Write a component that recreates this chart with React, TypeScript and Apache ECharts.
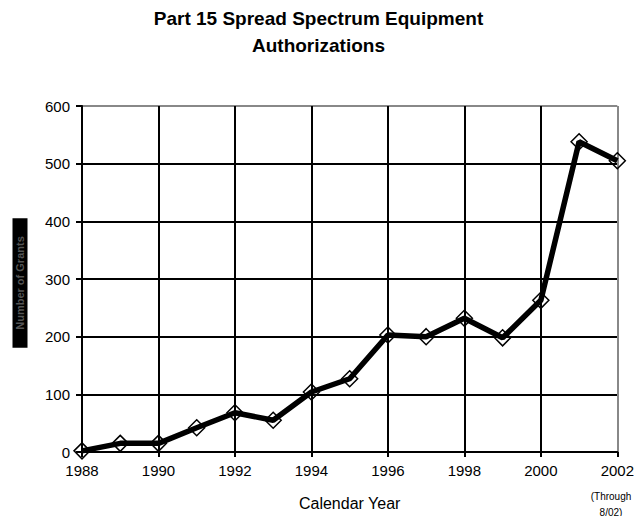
import React, { useEffect, useRef } from "react";
import * as echarts from "echarts";

const years = [1988, 1989, 1990, 1991, 1992, 1993, 1994, 1995, 1996, 1997, 1998, 1999, 2000, 2001, 2002];
const grants = [2, 15, 15, 42, 68, 55, 104, 127, 203, 200, 232, 198, 263, 538, 505];
const titleText = "Part 15 Spread Spectrum Equipment\nAuthorizations";
const xName = "Calendar Year";
const yName = "Number of Grants";
const footnote = "(Through\n8/02)";

export default function App() {
  const ref = useRef<HTMLDivElement>(null);
  useEffect(() => {
    if (!ref.current) return;
    const chart = echarts.init(ref.current, null, { renderer: "svg" });
    const font = "'Liberation Sans', Arial, sans-serif";
    chart.setOption({
      animation: false,
      backgroundColor: "#fff",
      textStyle: { fontFamily: font },
      title: {
        text: titleText,
        left: "center",
        top: 0,
        textStyle: { fontFamily: font, fontSize: 19, fontWeight: "bold", color: "#000", lineHeight: 27 },
      },
      grid: { left: 82, top: 106, right: 17, bottom: 59 },
      xAxis: {
        type: "value",
        min: 1988,
        max: 2002,
        interval: 2,
        name: xName,
        nameLocation: "middle",
        nameGap: 43,
        nameTextStyle: { fontFamily: font, fontSize: 16, color: "#000" },
        axisLine: { show: true, lineStyle: { color: "#000", width: 2 } },
        axisTick: { show: true, length: 5, lineStyle: { color: "#000", width: 2 } },
        axisLabel: { fontFamily: font, fontSize: 15, color: "#000", margin: 11, formatter: (v: number) => String(v) },
        splitLine: {
          show: true,
          lineStyle: { color: ["#000", "#000", "#000", "#000", "#000", "#000", "#000", "#888"], width: 2 },
        },
      },
      yAxis: {
        type: "value",
        min: 0,
        max: 600,
        interval: 100,
        axisLine: { show: true, lineStyle: { color: "#000", width: 2 } },
        axisTick: { show: true, length: 6, lineStyle: { color: "#000", width: 2 } },
        axisLabel: { fontFamily: font, fontSize: 15, color: "#000", margin: 12 },
        splitLine: {
          show: true,
          lineStyle: { color: ["#000", "#000", "#000", "#000", "#000", "#000", "#888"], width: 2 },
        },
      },
      graphic: [
        {
          type: "text",
          x: 20,
          y: 283,
          rotation: Math.PI / 2,
          style: {
            text: yName,
            fontFamily: font,
            fontSize: 11,
            fontWeight: "bold",
            fill: "#555",
            backgroundColor: "#000",
            padding: [2, 18, 2, 18],
            align: "center",
            verticalAlign: "middle",
          },
        },
        {
          type: "text",
          x: 611,
          y: 488,
          style: {
            text: footnote,
            fontFamily: font,
            fontSize: 10,
            fill: "#000",
            align: "center",
            verticalAlign: "top",
            lineHeight: 16,
          },
        },
      ],
      series: [
        {
          type: "line",
          data: years.map((y, i) => [y, grants[i]]),
          lineStyle: { color: "#000", width: 5.5 },
          symbol: "diamond",
          symbolSize: 16,
          itemStyle: { color: "rgba(255,255,255,0)", borderColor: "#000", borderWidth: 1.5 },
          z: 5,
        },
      ],
    });
    return () => chart.dispose();
  }, []);
  return <div ref={ref} style={{ position: "fixed", left: 0, top: 0, width: 637, height: 516 }} />;
}
